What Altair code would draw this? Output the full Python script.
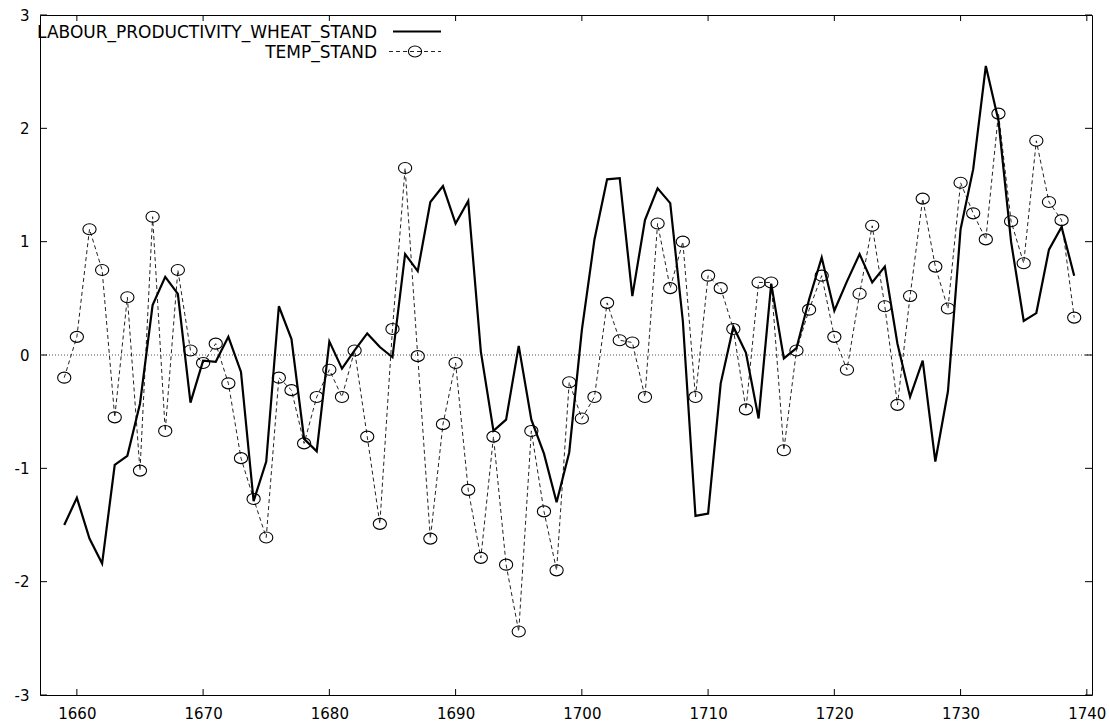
import altair as alt
import pandas as pd

years = list(range(1659, 1740))

labour = [
    -1.50, -1.26, -1.62, -1.84, -0.97, -0.89, -0.43, 0.44, 0.69, 0.54,
    -0.42, -0.05, -0.06, 0.16, -0.15, -1.29, -0.94, 0.43, 0.14, -0.74,
    -0.85, 0.12, -0.12, 0.04, 0.19, 0.07, -0.02, 0.89, 0.74, 1.35,
    1.49, 1.16, 1.36, 0.03, -0.67, -0.57, 0.08, -0.57, -0.87, -1.30,
    -0.86, 0.22, 1.02, 1.55, 1.56, 0.52, 1.19, 1.47, 1.34, 0.30,
    -1.42, -1.40, -0.25, 0.25, 0.02, -0.56, 0.63, -0.03, 0.06, 0.49,
    0.86, 0.39, 0.65, 0.89, 0.64, 0.78, 0.10, -0.37, -0.05, -0.94,
    -0.32, 1.11, 1.64, 2.55, 2.07, 1.00, 0.30, 0.37, 0.93, 1.13,
    0.70,
]

temp = [
    -0.20, 0.16, 1.11, 0.75, -0.55, 0.51, -1.02, 1.22, -0.67, 0.75,
    0.04, -0.07, 0.10, -0.25, -0.91, -1.27, -1.61, -0.20, -0.31, -0.78,
    -0.37, -0.13, -0.37, 0.04, -0.72, -1.49, 0.23, 1.65, -0.01, -1.62,
    -0.61, -0.07, -1.19, -1.79, -0.72, -1.85, -2.44, -0.67, -1.38, -1.90,
    -0.24, -0.56, -0.37, 0.46, 0.13, 0.11, -0.37, 1.16, 0.59, 1.00,
    -0.37, 0.70, 0.59, 0.23, -0.48, 0.64, 0.64, -0.84, 0.04, 0.40,
    0.70, 0.16, -0.13, 0.54, 1.14, 0.43, -0.44, 0.52, 1.38, 0.78,
    0.41, 1.52, 1.25, 1.02, 2.13, 1.18, 0.81, 1.89, 1.35, 1.19,
    0.33,
]

x_ticks = [1660, 1670, 1680, 1690, 1700, 1710, 1720, 1730, 1740]
y_ticks = [-3, -2, -1, 0, 1, 2, 3]

series_names = ["LABOUR_PRODUCTIVITY_WHEAT_STAND", "TEMP_STAND"]

W, H = 1052, 680
FONT = "DejaVu Sans"

df = pd.DataFrame({"year": years, "labour": labour, "temp": temp})
xt = pd.DataFrame({"t": x_ticks})
yt = pd.DataFrame({"t": y_ticks})
one = pd.DataFrame({"d": [0]})

xscale = alt.Scale(domain=[1657.08, 1740.41], nice=False, zero=False)
yscale = alt.Scale(domain=[-3, 3], nice=False)

xaxis = alt.Axis(values=x_ticks, labelExpr="'' + datum.value", labelFont=FONT,
                 labelFontSize=15, labelColor="black", tickSize=0, domain=False,
                 grid=False, labelPadding=11, title=None, labelFlush=False)
yaxis = alt.Axis(values=y_ticks, labelExpr="'' + datum.value", labelFont=FONT,
                 labelFontSize=15, labelColor="black", tickSize=0, domain=False,
                 grid=False, labelPadding=11, title=None, labelFlush=False)

base = alt.Chart(df)

zero_line = alt.Chart(one).mark_rule(color="#555", strokeWidth=1, strokeDash=[1, 2]).encode(
    y=alt.Y("d:Q", scale=yscale, axis=yaxis),
    x=alt.value(0), x2=alt.value(W),
)

lab_line = base.mark_line(color="black", strokeWidth=2.2).encode(
    x=alt.X("year:Q", scale=xscale, axis=xaxis),
    y=alt.Y("labour:Q", scale=yscale),
)

temp_line = base.mark_line(color="#222", strokeWidth=1, strokeDash=[4, 3]).encode(
    x=alt.X("year:Q", scale=xscale),
    y=alt.Y("temp:Q", scale=yscale),
)

ellipse = "M -1.2 0 A 1.2 1 0 1 0 1.2 0 A 1.2 1 0 1 0 -1.2 0 Z"

temp_pts = base.mark_point(shape=ellipse, size=121, filled=False, color="black",
                           strokeWidth=1.1, opacity=1).encode(
    x=alt.X("year:Q", scale=xscale),
    y=alt.Y("temp:Q", scale=yscale),
)

tick_bottom = alt.Chart(xt).mark_rule(color="black", strokeWidth=1).encode(
    x=alt.X("t:Q", scale=xscale), y=alt.value(H), y2=alt.value(H - 6))
tick_top = alt.Chart(xt).mark_rule(color="black", strokeWidth=1).encode(
    x=alt.X("t:Q", scale=xscale), y=alt.value(0), y2=alt.value(6))
tick_left = alt.Chart(yt).mark_rule(color="black", strokeWidth=1).encode(
    y=alt.Y("t:Q", scale=yscale), x=alt.value(0), x2=alt.value(7))
tick_right = alt.Chart(yt).mark_rule(color="black", strokeWidth=1).encode(
    y=alt.Y("t:Q", scale=yscale), x=alt.value(W), x2=alt.value(W - 7))

# legend (key)
leg_y1, leg_y2 = 17.5, 37.5
leg_text1 = alt.Chart(one).mark_text(align="right", baseline="middle", font=FONT,
                                     fontSize=17, color="black").encode(
    x=alt.value(337), y=alt.value(leg_y1), text=alt.value(series_names[0]))
leg_text2 = alt.Chart(one).mark_text(align="right", baseline="middle", font=FONT,
                                     fontSize=17, color="black").encode(
    x=alt.value(337), y=alt.value(leg_y2), text=alt.value(series_names[1]))
leg_line1 = alt.Chart(one).mark_rule(color="black", strokeWidth=2.2).encode(
    x=alt.value(353), x2=alt.value(401), y=alt.value(leg_y1 - 1))
leg_line2 = alt.Chart(one).mark_rule(color="#222", strokeWidth=1, strokeDash=[4, 3]).encode(
    x=alt.value(349), x2=alt.value(401), y=alt.value(leg_y2 - 1))
leg_pt = alt.Chart(one).mark_point(shape=ellipse, size=121, filled=False, color="black",
                                   strokeWidth=1.1, opacity=1).encode(
    x=alt.value(375), y=alt.value(leg_y2 - 1))

chart = alt.layer(
    zero_line, temp_line, temp_pts, lab_line,
    tick_bottom, tick_top, tick_left, tick_right,
    leg_text1, leg_text2, leg_line1, leg_line2, leg_pt,
).properties(
    width=W, height=H,
    autosize=alt.AutoSizeParams(type="none"),
    padding={"left": 40, "top": 15, "right": 18, "bottom": 31},
    background="white",
).configure_view(
    stroke="black", strokeWidth=1,
)

chart.save("out.html", embed_options={"renderer": "svg", "actions": False})
